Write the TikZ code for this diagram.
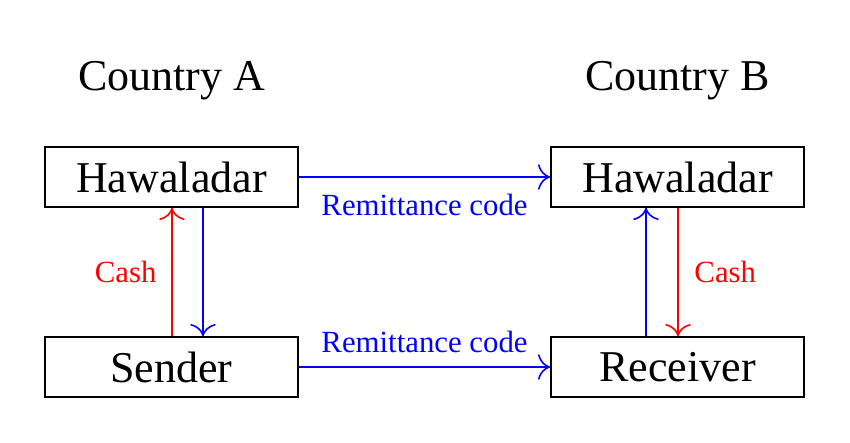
\documentclass[tikz,border=0pt]{standalone}
\usepackage{fontspec}
\usetikzlibrary{arrows.meta}
\setmainfont{Liberation Serif}
\begin{document}
\begin{tikzpicture}[x=0.5pt,y=-0.5pt,
  box/.style={draw=black,line width=0.9pt,minimum width=126.5pt,minimum height=30pt,inner sep=0pt,font=\fontsize{22}{26}\selectfont},
  title/.style={font=\fontsize{22}{26}\selectfont},
  lbl/.style={font=\fontsize{15.4}{18}\selectfont},
  conn/.style={-{To[scale=1.8]},line width=0.8pt}]
\useasboundingbox (0,0) rectangle (850,443);
\node[title] (ca) at (171.5,81) {Country A};
\node[title] (cb) at (677.5,81) {Country B};
\node[box] (ha) at (171.5,177) {Hawaladar};
\node[box] (hb) at (677.5,177) {Hawaladar};
\node[box] (s) at (171.5,367) {Sender};
\node[box] (r) at (677.5,367) {Receiver};
\draw[conn,blue] (ha.east) -- node[lbl,below=5pt] {Remittance code} (hb.west);
\draw[conn,blue] (s.east) -- node[lbl,above=3.5pt] {Remittance code} (r.west);
\draw[conn,red] ([xshift=0.25pt]s.north) -- node[lbl,left=4pt] {Cash} ([xshift=0.25pt]ha.south);
\draw[conn,blue] ([xshift=15.75pt]ha.south) -- ([xshift=15.75pt]s.north);
\draw[conn,blue] ([xshift=-15.75pt]r.north) -- ([xshift=-15.75pt]hb.south);
\draw[conn,red] ([xshift=0.25pt]hb.south) -- node[lbl,right=4.5pt] {Cash} ([xshift=0.25pt]r.north);
\end{tikzpicture}
\end{document}
